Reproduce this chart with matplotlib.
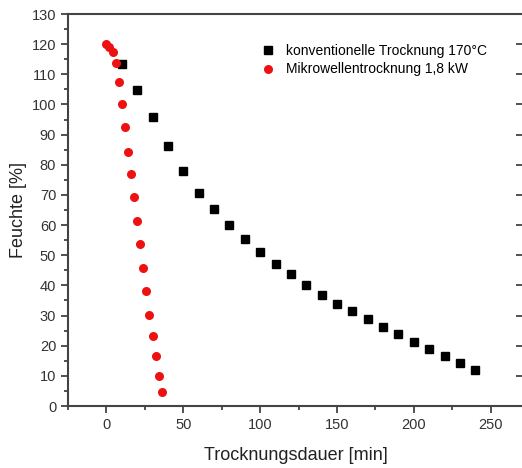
import matplotlib
matplotlib.use("Agg")
import matplotlib.pyplot as plt
from matplotlib.ticker import MultipleLocator

plt.rcParams['font.family'] = ['Liberation Sans', 'DejaVu Sans']

# Konventionelle Trocknung 170°C
t_konv = [10, 20, 30, 40, 50, 60, 70, 80, 90, 100, 110, 120, 130, 140, 150,
          160, 170, 180, 190, 200, 210, 220, 230, 240]
f_konv = [113.5, 104.8, 95.7, 86.2, 77.9, 70.5, 65.3, 60.0, 55.5, 51.1, 47.2,
          43.7, 40.1, 36.8, 33.9, 31.5, 28.7, 26.1, 23.8, 21.3, 19.0, 16.5,
          14.2, 11.9]

# Mikrowellentrocknung 1,8 kW
t_mikro = [0, 1.5, 4, 6, 8, 10, 12, 14, 16, 18, 20, 22, 24, 26, 28, 30, 32, 34, 36]
f_mikro = [120.0, 119.2, 117.5, 113.7, 107.5, 100.1, 92.4, 84.4, 76.8, 69.3,
           61.5, 53.8, 45.8, 38.1, 30.1, 23.2, 16.6, 10.1, 4.5]

fig = plt.figure(figsize=(5.22, 4.68), dpi=100)
# rechte Achse liegt knapp ausserhalb des Bildes (wie im Original abgeschnitten)
ax = fig.add_axes([68 / 522, 62 / 468, 455 / 522, 392 / 468])

ax.plot(t_konv, f_konv, 's', color='black', markersize=5.3,
        label='konventionelle Trocknung 170°C')
ax.plot(t_mikro, f_mikro, 'o', color='#ee1111', markersize=6.5, markeredgewidth=0,
        label='Mikrowellentrocknung 1,8 kW')

ax.set_xlim(-25, 271)
ax.set_ylim(0, 130)
ax.xaxis.set_major_locator(MultipleLocator(50))
ax.xaxis.set_minor_locator(MultipleLocator(25))
ax.yaxis.set_major_locator(MultipleLocator(10))
ax.yaxis.set_minor_locator(MultipleLocator(5))

ax.tick_params(which='both', direction='out', colors='#333333', labelsize=10.5,
               width=1.2, top=False, right=False)
ax.tick_params(which='major', length=5)
ax.tick_params(which='minor', length=3)
ax.tick_params(axis='y', which='major', right=True, labelright=False)
for t in ax.yaxis.get_major_ticks():
    t.tick2line.set_marker(0)  # rechte Ticks nach innen
for s in ax.spines.values():
    s.set_color('#444444')
    s.set_linewidth(1.5)
ax.spines['right'].set_visible(False)

ax.set_xlabel('Trocknungsdauer [min]', fontsize=13, color='#222222', labelpad=11)
ax.set_ylabel('Feuchte [%]', fontsize=13, color='#222222', labelpad=3)

ax.legend(loc='upper left', bbox_to_anchor=(0.413, 0.937), frameon=False,
          fontsize=10, handletextpad=0.8, labelspacing=0.3, handlelength=1.0,
          borderaxespad=0)

fig.savefig('out.png', dpi=100)
